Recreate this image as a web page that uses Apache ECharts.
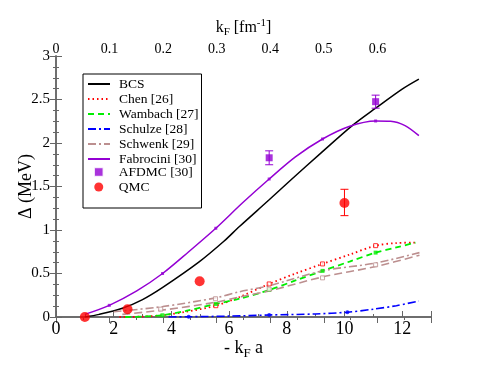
<!DOCTYPE html>
<html>
<head>
<meta charset="utf-8">
<script src="https://cdn.jsdelivr.net/npm/echarts@6/dist/echarts.min.js"></script>
<style>
  html, body { margin: 0; padding: 0; background: #fff; }
  #main { width: 485px; height: 374px; }
</style>
</head>
<body>
<div id="main"></div>
<script>
var myChart = echarts.init(document.getElementById('main'));

// -k_F a  vs  gap (MeV)
var bcs = [[1.0, 0], [1.5, 0.03], [2.3, 0.10], [3.0, 0.2], [3.7, 0.34], [4.95, 0.63], [5.82, 0.87], [6.36, 1.04], [7.4, 1.35], [8.14, 1.575], [9.2, 1.89], [10.27, 2.2], [11.08, 2.4], [12.0, 2.62], [12.58, 2.735]]
var chen = [[2.2, 0], [3.0, 0.005], [3.7, 0.02], [4.5, 0.06], [5.54, 0.13], [6.36, 0.23], [7.39, 0.38], [8.3, 0.5], [9.24, 0.61], [10.2, 0.72], [11.08, 0.82], [11.8, 0.85], [12.46, 0.855]]
var chenMarks = [[5.54, 0.13], [7.39, 0.38], [9.24, 0.61], [11.08, 0.82]]
var wambach = [[2.4, 0], [3.0, 0.005], [3.69, 0.02], [4.5, 0.07], [5.54, 0.15], [6.36, 0.21], [7.39, 0.31], [8.3, 0.42], [9.24, 0.53], [10.2, 0.64], [11.08, 0.74], [11.8, 0.8], [12.46, 0.855]]
var wambachMarks = [[3.69, 0.02], [5.54, 0.15], [7.39, 0.31], [9.24, 0.53], [11.08, 0.74]]
var schulze = [[3.9, 0], [4.6, 0.003], [6.0, 0.01], [7.39, 0.023], [9.0, 0.035], [10.1, 0.055], [11.0, 0.09], [11.8, 0.13], [12.58, 0.184]]
var schulzeMarks = [[4.6, 0.003], [7.39, 0.023], [10.1, 0.055]]
var schwenk = [[2.0, 0.06], [3.7, 0.12], [5.54, 0.22], [6.36, 0.29], [7.39, 0.36], [9.24, 0.53], [11.08, 0.62], [12.6, 0.74]]
var schwenk2 = [[2.3, 0.03], [3.7, 0.08], [5.54, 0.17], [6.36, 0.23], [7.39, 0.3], [9.24, 0.46], [11.08, 0.58], [12.6, 0.71]]
var schwenkMarks = [[3.63, 0.09], [5.53, 0.21], [7.39, 0.32], [9.24, 0.45], [11.08, 0.6]]
var fabrocini = [[1.0, 0.03], [1.847, 0.134], [2.8, 0.3], [3.694, 0.5], [4.6, 0.75], [5.54, 1.02], [6.46, 1.31], [7.39, 1.586], [8.3, 1.84], [9.24, 2.046], [10.16, 2.19], [11.08, 2.253], [11.6, 2.25], [12.1, 2.2], [12.58, 2.084]]
var fabMarks = [[1.847, 0.134], [3.694, 0.5], [5.54, 1.02], [7.39, 1.586], [9.24, 2.046], [11.08, 2.253]]
// x, y, low, high
var afdmc = [[7.39, 1.83, 1.75, 1.91], [11.08, 2.475, 2.40, 2.55]]
var qmc = [[1.0, 0, 0, 0], [2.48, 0.09, 0.09, 0.09], [4.98, 0.41, 0.41, 0.41], [10.0, 1.31, 1.165, 1.468]]

var lineNames = ['BCS', 'Chen [26]', 'Wambach [27]', 'Schulze [28]', 'Schwenk [29]', 'Fabrocini [30]']

var serif = 'Liberation Serif'
var axisGray = '#666'

function errBars(color) {
  return function (params, api) {
    var x = api.value(0)
    var lo = api.coord([x, api.value(2)])
    var hi = api.coord([x, api.value(3)])
    if (api.value(2) === api.value(3)) return null
    var w = 4
    var st = { stroke: color, lineWidth: 1 }
    return {
      type: 'group',
      children: [
        { type: 'line', shape: { x1: lo[0], y1: lo[1], x2: hi[0], y2: hi[1] }, style: st },
        { type: 'line', shape: { x1: lo[0] - w, y1: lo[1], x2: lo[0] + w, y2: lo[1] }, style: st },
        { type: 'line', shape: { x1: hi[0] - w, y1: hi[1], x2: hi[0] + w, y2: hi[1] }, style: st }
      ]
    }
  }
}

function lineSeries(name, data, color, dash, width) {
  return {
    name: name,
    type: 'line',
    data: data,
    smooth: 0.3,
    symbol: 'none',
    lineStyle: { color: color, width: width || 1.5, type: dash },
    itemStyle: { color: color },
    z: 3
  }
}

function markSeries(data, color, symbol, size, open) {
  return {
    type: 'scatter',
    data: data,
    symbol: symbol,
    symbolSize: size,
    itemStyle: open ? { color: '#fff', borderColor: color, borderWidth: 1 } : { color: color },
    z: 4
  }
}

var axisLine = { lineStyle: { color: axisGray, width: 1.5 } }
var axisTick = { inside: true, length: 6, lineStyle: { color: axisGray } }
function minor(n) {
  return { show: true, splitNumber: n, length: 3, lineStyle: { color: axisGray } }
}

var legendText = { fontFamily: serif, fontSize: 13.5, color: '#000', lineHeight: 14, padding: [0, 0, 0, 4] }

var option = {
  animation: false,
  backgroundColor: '#fff',
  grid: { left: 56, right: 54, top: 56, bottom: 57 },
  legend: [
    {
      left: 83,
      top: 74,
      orient: 'vertical',
      backgroundColor: '#fff',
      borderColor: '#000',
      borderWidth: 1,
      borderRadius: 0,
      padding: [3, 3, 42, 4],
      itemGap: 1,
      itemWidth: 22,
      itemHeight: 10,
      textStyle: legendText,
      data: lineNames.map(function (n) {
        return { name: n, itemStyle: { color: 'transparent', borderColor: 'transparent', opacity: 0 } }
      })
    },
    {
      left: 93.5,
      top: 165,
      orient: 'vertical',
      padding: 0,
      itemGap: 1,
      itemWidth: 9,
      itemHeight: 9,
      textStyle: Object.assign({}, legendText, { padding: [0, 0, 0, 10.5], lineHeight: 14 }),
      data: [
        { name: 'AFDMC [30]', icon: 'rect', itemStyle: { color: '#9400d3', borderColor: '#fff', borderWidth: 1.5 } },
        { name: 'QMC', icon: 'circle', itemStyle: { color: '#ff0000' } }
      ]
    }
  ],
  xAxis: [
    {
      type: 'value', min: 0, max: 13, interval: 2, position: 'bottom',
      name: '{a|- k}{sub|F}{a| a}',
      nameLocation: 'middle', nameGap: 20, nameMoveOverlap: false,
      nameTextStyle: {
        rich: {
          a: { fontFamily: serif, fontSize: 18, color: '#000' },
          sub: { fontFamily: serif, fontSize: 13, color: '#000', padding: [10, 0, 0, 0] }
        }
      },
      axisLine: axisLine, axisTick: axisTick, minorTick: minor(2), splitLine: { show: false },
      axisLabel: {
        fontFamily: serif, fontSize: 18, color: '#000', margin: 3,
        formatter: function (v) { return v > 12 ? '' : String(v) }
      }
    },
    {
      type: 'value', min: 0, max: 0.7, interval: 0.1, position: 'top',
      name: '{a|k}{sub|F}{a| [fm}{sup|-1}{a|]}',
      nameLocation: 'middle', nameGap: 18, nameMoveOverlap: false,
      nameTextStyle: {
        rich: {
          a: { fontFamily: serif, fontSize: 16, color: '#000' },
          sub: { fontFamily: serif, fontSize: 11, color: '#000', padding: [9, 0, 0, 0] },
          sup: { fontFamily: serif, fontSize: 11, color: '#000', padding: [0, 0, 9, 0] }
        }
      },
      axisLine: axisLine, axisTick: axisTick, minorTick: minor(2), splitLine: { show: false },
      axisLabel: {
        fontFamily: serif, fontSize: 14, color: '#000', margin: 0,
        formatter: function (v) { return v > 0.65 ? '' : String(Math.round(v * 10) / 10) }
      }
    }
  ],
  yAxis: [
    {
      type: 'value', min: 0, max: 3, interval: 0.5, position: 'left',
      name: 'Δ (MeV)',
      nameLocation: 'middle', nameGap: 21, nameRotate: 90, nameMoveOverlap: false,
      nameTextStyle: { fontFamily: serif, fontSize: 18, color: '#000' },
      axisLine: axisLine, axisTick: axisTick, minorTick: minor(4), splitLine: { show: false },
      axisLabel: { fontFamily: serif, fontSize: 15, color: '#000', margin: 6 }
    },
    {
      type: 'value', min: 0, max: 3, interval: 0.5, position: 'right',
      axisLine: axisLine, axisTick: axisTick, minorTick: minor(4), splitLine: { show: false },
      axisLabel: { show: false }
    }
  ],
  series: [
    lineSeries('BCS', bcs, '#000000', 'solid', 1.5),
    lineSeries('Chen [26]', chen, '#ff0000', [1.5, 3], 1.8),
    markSeries(chenMarks, '#ff0000', 'rect', 4, true),
    lineSeries('Wambach [27]', wambach, '#00ee00', [6, 4], 1.8),
    markSeries(wambachMarks, '#00ee00', 'rect', 4, false),
    lineSeries('Schulze [28]', schulze, '#0000ff', [8, 3, 2, 3], 1.6),
    markSeries(schulzeMarks, '#0000ff', 'circle', 4, false),
    lineSeries('Schwenk [29]', schwenk, '#bc8f8f', [8, 3, 2, 3], 1.6),
    lineSeries('', schwenk2, '#bc8f8f', [8, 4], 1.6),
    markSeries(schwenkMarks, '#bc8f8f', 'rect', 4, true),
    lineSeries('Fabrocini [30]', fabrocini, '#9400d3', 'solid', 1.5),
    markSeries(fabMarks, '#9400d3', 'rect', 3, false),
    {
      type: 'custom', data: afdmc, renderItem: errBars('#9400d3'), z: 5,
      encode: { x: 0, y: [1, 2, 3] }
    },
    {
      name: 'AFDMC [30]', type: 'scatter', data: afdmc, symbol: 'rect', symbolSize: 7,
      itemStyle: { color: '#9400d3' }, z: 6
    },
    {
      type: 'custom', data: qmc, renderItem: errBars('#ff0000'), z: 5,
      encode: { x: 0, y: [1, 2, 3] }
    },
    {
      name: 'QMC', type: 'scatter', data: qmc, symbol: 'circle', symbolSize: 10,
      itemStyle: { color: '#ff0000' }, z: 6
    }
  ]
};

myChart.setOption(option);
</script>
</body>
</html>
